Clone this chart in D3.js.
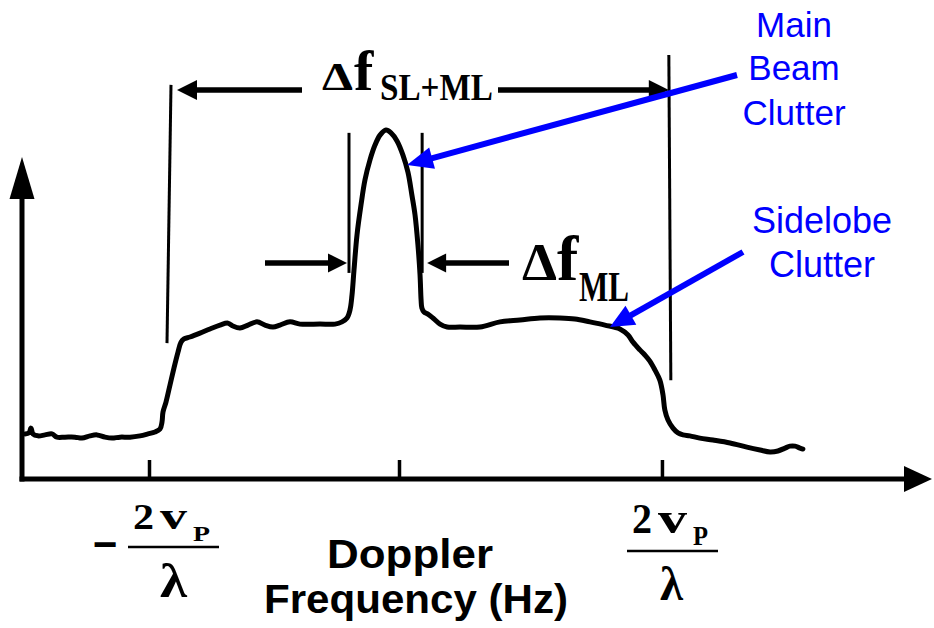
<!DOCTYPE html>
<html><head><meta charset="utf-8">
<script src="https://cdn.jsdelivr.net/npm/d3@7"></script>
<style>html,body{margin:0;padding:0;background:#fff;} svg{display:block;background:#fff;}</style>
</head><body><svg id="chart" width="934" height="628"></svg>
<script>
// Doppler frequency, normalised by 2vP/λ
const freq = [-1.496,-1.480,-1.472,-1.464,-1.444,-1.416,-1.388,-1.368,-1.336,-1.296,-1.268,-1.236,-1.208,-1.176,-1.148,-1.116,-1.076,-1.036,-1.004,-0.976,
  -0.956,-0.948,-0.944,-0.932,-0.916,-0.900,-0.884,-0.872,-0.860,-0.836,-0.796,-0.756,-0.716,-0.684,-0.664,-0.636,-0.604,-0.568,-0.536,-0.504,
  -0.476,-0.436,-0.396,-0.316,-0.256,-0.228,-0.208,-0.196,-0.188,-0.180,-0.168,-0.152,-0.136,-0.116,-0.096,-0.076,-0.052,-0.032,-0.008,0.015,
  0.034,0.049,0.061,0.072,0.080,0.084,0.087,0.095,0.110,0.129,0.156,0.183,0.232,0.308,0.384,0.460,0.536,0.612,0.669,0.726,
  0.783,0.840,0.871,0.890,0.916,0.935,0.954,0.973,0.992,1.004,1.011,1.023,1.042,1.061,1.080,1.106,1.144,1.194,1.259,1.323,
  1.373,1.411,1.441,1.468,1.487,1.506,1.525,1.536];
// Clutter power (arbitrary units)
const power = [1.40,1.43,1.58,1.40,1.34,1.37,1.40,1.30,1.30,1.30,1.27,1.34,1.37,1.30,1.27,1.30,1.30,1.34,1.40,1.46,
  1.55,1.77,2.08,2.39,2.92,3.45,3.94,4.25,4.35,4.41,4.53,4.66,4.78,4.84,4.75,4.69,4.78,4.88,4.78,4.72,
  4.78,4.88,4.81,4.81,4.81,4.88,5.00,5.25,5.71,6.49,7.58,8.51,9.29,9.91,10.37,10.68,10.84,10.75,10.50,10.06,
  9.53,8.82,8.20,7.27,6.34,5.56,5.31,5.19,5.12,5.00,4.81,4.72,4.72,4.72,4.88,4.94,5.00,5.00,4.97,4.88,
  4.78,4.66,4.47,4.25,4.01,3.85,3.66,3.39,3.07,2.61,2.14,1.83,1.58,1.43,1.37,1.34,1.27,1.21,1.12,0.99,
  0.90,0.84,0.87,0.96,1.02,1.02,0.96,0.93];

const tickValues = [-1, 0, 1];
const tickSigns = ["−", "", ""];
const tickNumerators = ["2", "", "2"];
const tickVars = ["v", "", "v"];
const tickSubs = ["P", "", "P"];
const tickDenominators = ["λ", "", "λ"];

// bandwidth marker lines: frequency, top and bottom power level
const slmlEdges = [-0.92, 1.03];
const slmlTops = [12.24, 13.17];
const slmlBottoms = [4.22, 3.07];
const mlEdges = [-0.20, 0.088];
const mlTop = 10.75, mlBottom = 6.40;
const slmlArrowLevel = 12.08;
const mlArrowLevel = 6.71;

const svg = d3.select("#chart");
const x = d3.scaleLinear().domain([-1.508, 0, 2.027]).range([22, 399, 932]);
const y = d3.scaleLinear().domain([0, 10]).range([479, 157]);
const SERIF = "'Liberation Serif','Times New Roman',serif";
const SANS = "'Liberation Sans',Arial,sans-serif";
const BLUE = "#0000ff";

// ---- x axis
const xr = x.range();
const gx = svg.append("g").attr("transform", `translate(0,${y(0)})`)
  .call(d3.axisBottom(x).tickValues(tickValues).tickSizeInner(-19).tickSizeOuter(0).tickFormat(""));
gx.select(".domain").attr("d", `M${xr[0]-2.5},0H${xr[2]-24}`).attr("stroke", "#000").attr("stroke-width", 5);
gx.selectAll(".tick line").attr("stroke", "#000").attr("stroke-width", 3.5);
svg.append("path").attr("d", `M${xr[2]},${y(0)}L${xr[2]-28},${y(0)-13}L${xr[2]-28},${y(0)+13}Z`).attr("fill", "#000");

// ---- y axis
const yTip = y(10);
svg.append("line").attr("x1", xr[0]).attr("x2", xr[0]).attr("y1", y(0) + 2.5).attr("y2", yTip + 38)
  .attr("stroke", "#000").attr("stroke-width", 5);
svg.append("path").attr("d", `M${xr[0]},${yTip}L${xr[0]-12.5},${yTip+42}L${xr[0]+12.5},${yTip+42}Z`).attr("fill", "#000");

// ---- clutter spectrum
const line = d3.line().x((d, i) => x(freq[i])).y((d, i) => y(power[i])).curve(d3.curveCatmullRom.alpha(0.5));
svg.append("path").datum(freq).attr("d", line).attr("fill", "none").attr("stroke", "#000")
  .attr("stroke-width", 5).attr("stroke-linejoin", "round").attr("stroke-linecap", "round");

// ---- marker lines
slmlEdges.forEach((f, i) => {
  svg.append("line").attr("x1", x(f) + (i === 0 ? 2 : -1)).attr("x2", x(f) + (i === 0 ? -2 : 1))
    .attr("y1", y(slmlTops[i])).attr("y2", y(slmlBottoms[i])).attr("stroke", "#000").attr("stroke-width", 3);
});
mlEdges.forEach(f => {
  svg.append("line").attr("x1", x(f)).attr("x2", x(f)).attr("y1", y(mlTop)).attr("y2", y(mlBottom))
    .attr("stroke", "#000").attr("stroke-width", 3);
});

function arrow(x0, x1, yy, col, w, hl, hw) {
  const dir = Math.sign(x1 - x0);
  svg.append("line").attr("x1", x0).attr("x2", x1 - dir * hl * 0.8).attr("y1", yy).attr("y2", yy)
    .attr("stroke", col).attr("stroke-width", w);
  svg.append("path").attr("d", `M${x1},${yy}L${x1 - dir*hl},${yy-hw}L${x1 - dir*hl},${yy+hw}Z`).attr("fill", col);
}
function arrowLine(x0, y0, x1, y1, col, w, hl, hw) {
  const dx = x1 - x0, dy = y1 - y0, L = Math.hypot(dx, dy), ux = dx / L, uy = dy / L;
  const bx = x1 - ux * hl, by = y1 - uy * hl;
  svg.append("line").attr("x1", x0).attr("y1", y0).attr("x2", x1 - ux*hl*0.8).attr("y2", y1 - uy*hl*0.8)
    .attr("stroke", col).attr("stroke-width", w);
  svg.append("path").attr("d", `M${x1},${y1}L${bx - uy*hw},${by + ux*hw}L${bx + uy*hw},${by - ux*hw}Z`).attr("fill", col);
}

// Δf SL+ML arrows
const ya = y(slmlArrowLevel);
arrow(302, x(slmlEdges[0]) + 8, ya, "#000", 5.5, 20, 10);
arrow(498, x(slmlEdges[1]) - 1, ya, "#000", 5.5, 20, 10);
// Δf ML arrows
const yb = y(mlArrowLevel);
arrow(265, x(mlEdges[0]) - 2, yb, "#000", 5.5, 19, 9.5);
arrow(509, x(mlEdges[1]) + 5, yb, "#000", 5.5, 19, 9.5);

function txt(s, xx, yy, size, opts = {}) {
  const t = svg.append("text").attr("x", xx).attr("y", yy).text(s)
    .attr("font-family", opts.family || SERIF).attr("font-size", size)
    .attr("font-weight", opts.weight || "bold").attr("fill", opts.fill || "#000");
  if (opts.anchor) t.attr("text-anchor", opts.anchor);
  if (opts.len) t.attr("textLength", opts.len).attr("lengthAdjust", "spacingAndGlyphs");
  if (opts.stroke) t.attr("stroke", opts.fill || "#000").attr("stroke-width", opts.stroke);
  return t;
}

// Δf labels
txt("Δ", 322, 90, 40, {len: 31});
txt("f", 354, 90, 58);
txt("SL+ML", 380, 100, 37, {len: 113});
txt("Δ", 522, 280, 52, {len: 35});
txt("f", 557, 280, 64);
txt("ML", 579, 301, 42, {len: 50});

// tick labels
const lab = [
  {sx: 93, sy: 560, n: 133, ny: 529, nf: 36, nl: 21, v: 160, vf: 38, vl: 27, p: 193, py: 541, pf: 21, pl: 17, l0: 128, l1: 219, ly: 547, lx: 160, lyy: 597, lf: 48, ll: 27},
  null,
  {n: 632, ny: 533, nf: 42, nl: 20, v: 658, vf: 44, vl: 29, p: 693, py: 545, pf: 28, pl: 15, l0: 627, l1: 718, ly: 551, lx: 660, lyy: 600, lf: 48, ll: 23}
];
tickValues.forEach((tv, i) => {
  const L = lab[i];
  if (!L) return;
  if (tickSigns[i]) txt(tickSigns[i], L.sx, L.sy, 46, {len: 24, stroke: 1.6});
  txt(tickNumerators[i], L.n, L.ny, L.nf, {len: L.nl});
  txt(tickVars[i], L.v, L.ny, L.vf, {len: L.vl});
  txt(tickSubs[i], L.p, L.py, L.pf, {len: L.pl});
  svg.append("line").attr("x1", L.l0).attr("x2", L.l1).attr("y1", L.ly).attr("y2", L.ly).attr("stroke", "#000").attr("stroke-width", 2.5);
  txt(tickDenominators[i], L.lx, L.lyy, L.lf, {len: L.ll});
});

// axis title
txt("Doppler", 410, 568, 41, {family: SANS, anchor: "middle", len: 166});
txt("Frequency (Hz)", 416, 613, 41, {family: SANS, anchor: "middle", len: 304});

// blue annotations
arrowLine(737, 75, 407, 165, BLUE, 6, 26, 11);
arrowLine(743, 252, 610, 327, BLUE, 6, 24, 11);
[["Main", 37], ["Beam", 80], ["Clutter", 125]].forEach(([s, yy]) => txt(s, 794, yy, 35, {family: SANS, weight: "normal", fill: BLUE, anchor: "middle"}));
[["Sidelobe", 233], ["Clutter", 277]].forEach(([s, yy]) => txt(s, 822, yy, 36, {family: SANS, weight: "normal", fill: BLUE, anchor: "middle"}));
</script></body></html>
